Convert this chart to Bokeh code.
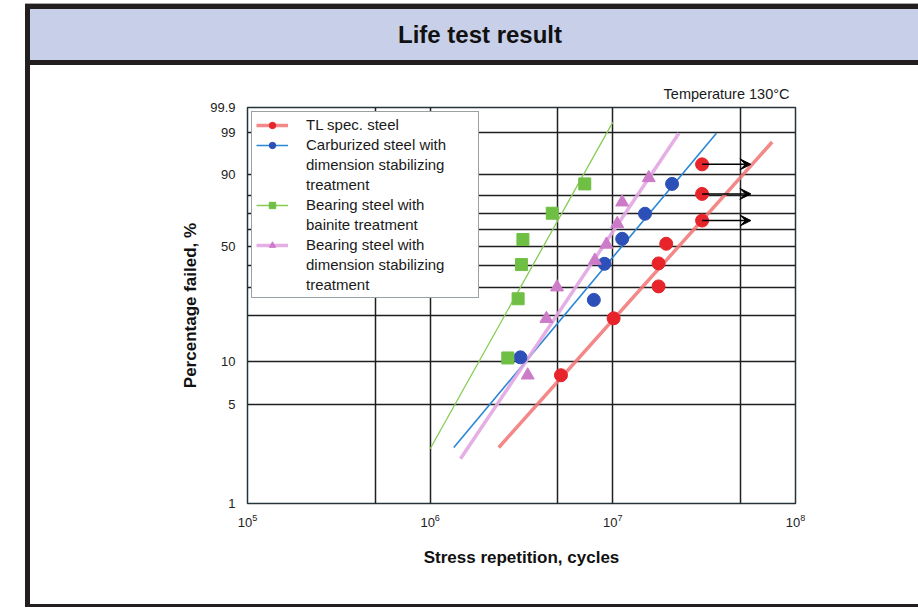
import numpy as np
from bokeh.plotting import figure
from bokeh.models import (ColumnDataSource, FixedTicker, Legend, LegendItem, Arrow,
                          VeeHead, Title, Div, Spacer, LogTickFormatter)
from bokeh.layouts import row, column
from bokeh.embed import file_html
from bokeh.resources import INLINE

# ---------------- data ----------------
red_cycles = [5.2e6, 1.01e7, 1.78e7, 1.78e7, 1.96e7, 3.08e7, 3.08e7, 3.08e7]
red_pct = [8.0, 19.2, 30.3, 41.0, 51.8, 65.7, 81.0, 93.3]

blue_cycles = [3.12e6, 7.87e6, 9.0e6, 1.125e7, 1.50e7, 2.11e7]
blue_pct = [10.6, 25.1, 40.8, 54.7, 69.8, 85.9]

green_cycles = [2.66e6, 3.03e6, 3.16e6, 3.22e6, 4.66e6, 7.02e6]
green_pct = [10.5, 25.5, 40.4, 54.3, 70.1, 85.9]

pink_cycles = [3.42e6, 4.33e6, 4.95e6, 7.97e6, 9.23e6, 1.057e7, 1.125e7, 1.573e7]
pink_pct = [8.0, 19.1, 30.0, 42.5, 51.4, 63.7, 76.5, 88.5]

# fitted Weibull lines (end points)
red_fit_cycles = [2.375e6, 7.45e7]
red_fit_pct = [2.5, 98.0]
blue_fit_cycles = [1.347e6, 3.69e7]
blue_fit_pct = [2.5, 98.9]
green_fit_cycles = [1.0e6, 1.0e7]
green_fit_pct = [2.45, 99.56]
pink_fit_cycles = [1.466e6, 2.30e7]
pink_fit_pct = [2.08, 98.9]

# suspended (unfailed) TL specimens -> arrows
arrow_start_cycles = [3.08e7, 3.08e7, 3.08e7]
arrow_end_cycles = [5.7e7, 5.7e7, 5.7e7]
arrow_pct = [65.7, 81.0, 93.3]

y_tick_pct = [1, 5, 10, 50, 90, 99, 99.9]
y_tick_labels = ["1", "5", "10", "50", "90", "99", "99.9"]
y_grid_pct = [5, 10, 20, 30, 40, 50, 60, 70, 80, 90, 99]
x_tick_vals = [1e5, 1e6, 1e7, 1e8]
x_grid_vals = [5e5, 1e6, 5e6, 1e7, 5e7]

legend_lines = [
    ("TL spec. steel", "red"),
    ("Carburized steel with", "blue"),
    ("dimension stabilizing", None),
    ("treatment", None),
    ("Bearing steel with", "green"),
    ("bainite treatment", None),
    ("Bearing steel with", "pink"),
    ("dimension stabilizing", None),
    ("treatment", None),
]


def weib(p):
    """Weibull probability scale: ln(-ln(1-F))."""
    return np.log(-np.log(1.0 - np.asarray(p, dtype=float) / 100.0))


FONT = "Liberation Sans"
DARK = "#1f1f1f"

y_ticks = [float(v) for v in weib(y_tick_pct)]

p = figure(width=888, height=539, x_axis_type="log", x_range=(1e5, 1e8),
           y_range=(y_ticks[0], y_ticks[-1]), output_backend="svg",
           toolbar_location=None, title=None,
           min_border_left=217, min_border_right=123, min_border_top=42,
           min_border_bottom=101, margin=(0, 0, 0, 0))
p.background_fill_color = "white"
p.border_fill_color = "white"
p.outline_line_color = "#25343a"
p.outline_line_width = 1.5

# grids
p.xgrid.ticker = FixedTicker(ticks=x_grid_vals)
p.ygrid.ticker = FixedTicker(ticks=[float(v) for v in weib(y_grid_pct)])
for g in (p.xgrid, p.ygrid):
    g.grid_line_color = DARK
    g.grid_line_width = 1.5
    g.grid_line_alpha = 1.0

# axes
p.xaxis.ticker = FixedTicker(ticks=x_tick_vals)
p.xaxis.formatter = LogTickFormatter()
p.yaxis.ticker = FixedTicker(ticks=y_ticks)
p.yaxis.major_label_overrides = {v: s for v, s in zip(y_ticks, y_tick_labels)}
for ax in (p.xaxis, p.yaxis):
    ax.axis_line_color = None
    ax.major_tick_line_color = None
    ax.minor_tick_line_color = None
    ax.major_tick_out = 0
    ax.major_tick_in = 0
    ax.major_label_standoff = 12
    ax.major_label_text_font = FONT
    ax.major_label_text_font_size = "13px"
    ax.major_label_text_color = "#222222"
    ax.axis_label_text_font = FONT
    ax.axis_label_text_font_style = "bold"
    ax.axis_label_text_color = "#111111"
p.xaxis.major_label_text_font_size = "13px"
p.xaxis.major_label_standoff = 10
p.xaxis.axis_label = "Stress repetition, cycles"
p.xaxis.axis_label_text_font_size = "17px"
p.xaxis.axis_label_standoff = 18
p.yaxis.axis_label = "Percentage failed, %"
p.yaxis.axis_label_text_font_size = "17px"
p.yaxis.axis_label_standoff = 7

# fitted lines
r_red_l = p.line(red_fit_cycles, list(weib(red_fit_pct)), line_color="#f27272",
                 line_width=3.5, line_alpha=0.85)
r_blue_l = p.line(blue_fit_cycles, list(weib(blue_fit_pct)), line_color="#2a86d6",
                  line_width=1.6)
r_green_l = p.line(green_fit_cycles, list(weib(green_fit_pct)), line_color="#86cc55",
                   line_width=1.3)
r_pink_l = p.line(pink_fit_cycles, list(weib(pink_fit_pct)), line_color="#e2a6e2",
                  line_width=3.5, line_alpha=0.9)

# arrows for suspended tests
asrc = ColumnDataSource(dict(x0=arrow_start_cycles, x1=arrow_end_cycles,
                             y=list(weib(arrow_pct))))
p.add_layout(Arrow(end=VeeHead(size=11, fill_color="black", line_color="black"),
                   x_start="x0", y_start="y", x_end="x1", y_end="y",
                   line_color="black", line_width=1.5, source=asrc))

# points
r_red_p = p.scatter(red_cycles, list(weib(red_pct)), marker="circle", size=13,
                    fill_color="#e8242b", line_color="#e8242b")
r_blue_p = p.scatter(blue_cycles, list(weib(blue_pct)), marker="circle", size=13,
                     fill_color="#2d50b8", line_color="#2d50b8")
r_green_p = p.scatter(green_cycles, list(weib(green_pct)), marker="square", size=12,
                      fill_color="#6fbf44", line_color="#6fbf44")
r_pink_p = p.scatter(pink_cycles, list(weib(pink_pct)), marker="triangle", size=13,
                     fill_color="#cc7bc9", line_color="#cc7bc9")

blank = p.scatter([], [], marker="circle", size=1, fill_alpha=0, line_alpha=0)

series = {"red": [r_red_l, r_red_p], "blue": [r_blue_l, r_blue_p],
          "green": [r_green_l, r_green_p], "pink": [r_pink_l, r_pink_p]}
items = [LegendItem(label=txt, renderers=series[key] if key else [blank])
         for txt, key in legend_lines]
legend = Legend(items=items, location="top_left", margin=4, padding=4,
                spacing=3, glyph_width=32, glyph_height=16, label_height=16,
                label_standoff=18, label_width=168,
                label_text_font=FONT, label_text_font_size="15px",
                label_text_color="#1a1a1a",
                border_line_color="#34444c", border_line_width=1,
                background_fill_color="white", background_fill_alpha=1.0)
p.add_layout(legend)

p.add_layout(Title(text="Temperature 130\u00b0C", align="right", offset=6,
                   standoff=12, text_font=FONT, text_font_size="14.5px",
                   text_font_style="normal", text_color="#1a1a1a"), "above")

# page decoration: banner and frame bars
banner = Div(text=(
    '<div style="width:893px;height:65px;position:relative;">'
    '<div style="position:absolute;left:0;top:3px;width:893px;height:1px;background:#a8a8a8"></div>'
    '<div style="box-sizing:border-box;position:absolute;left:0;top:4px;width:893px;height:61px;'
    'background:#c8cfe8;border-top:5px solid #231f20;'
    'border-bottom:5px solid #231f20;border-left:5px solid #231f20;'
    'padding-left:12px;display:flex;align-items:center;justify-content:center;'
    "font:bold 24px 'Liberation Sans', Arial, sans-serif;color:#111111;\">"
    'Life test result</div></div>'), width=893, height=65, margin=(0, 0, 0, 0))
left_bar = Div(text="", width=5, height=539, margin=(0, 0, 0, 0),
               styles={"background-color": "#231f20"})
bottom_bar = Div(text="", width=893, height=3, margin=(0, 0, 0, 0),
                 styles={"background-color": "#231f20"})
pad = Spacer(width=25, height=607, margin=(0, 0, 0, 0))

layout = row(pad, column(banner, row(left_bar, p, spacing=0), bottom_bar, spacing=0),
             spacing=0)

open("out.html", "w").write(file_html(layout, INLINE))
